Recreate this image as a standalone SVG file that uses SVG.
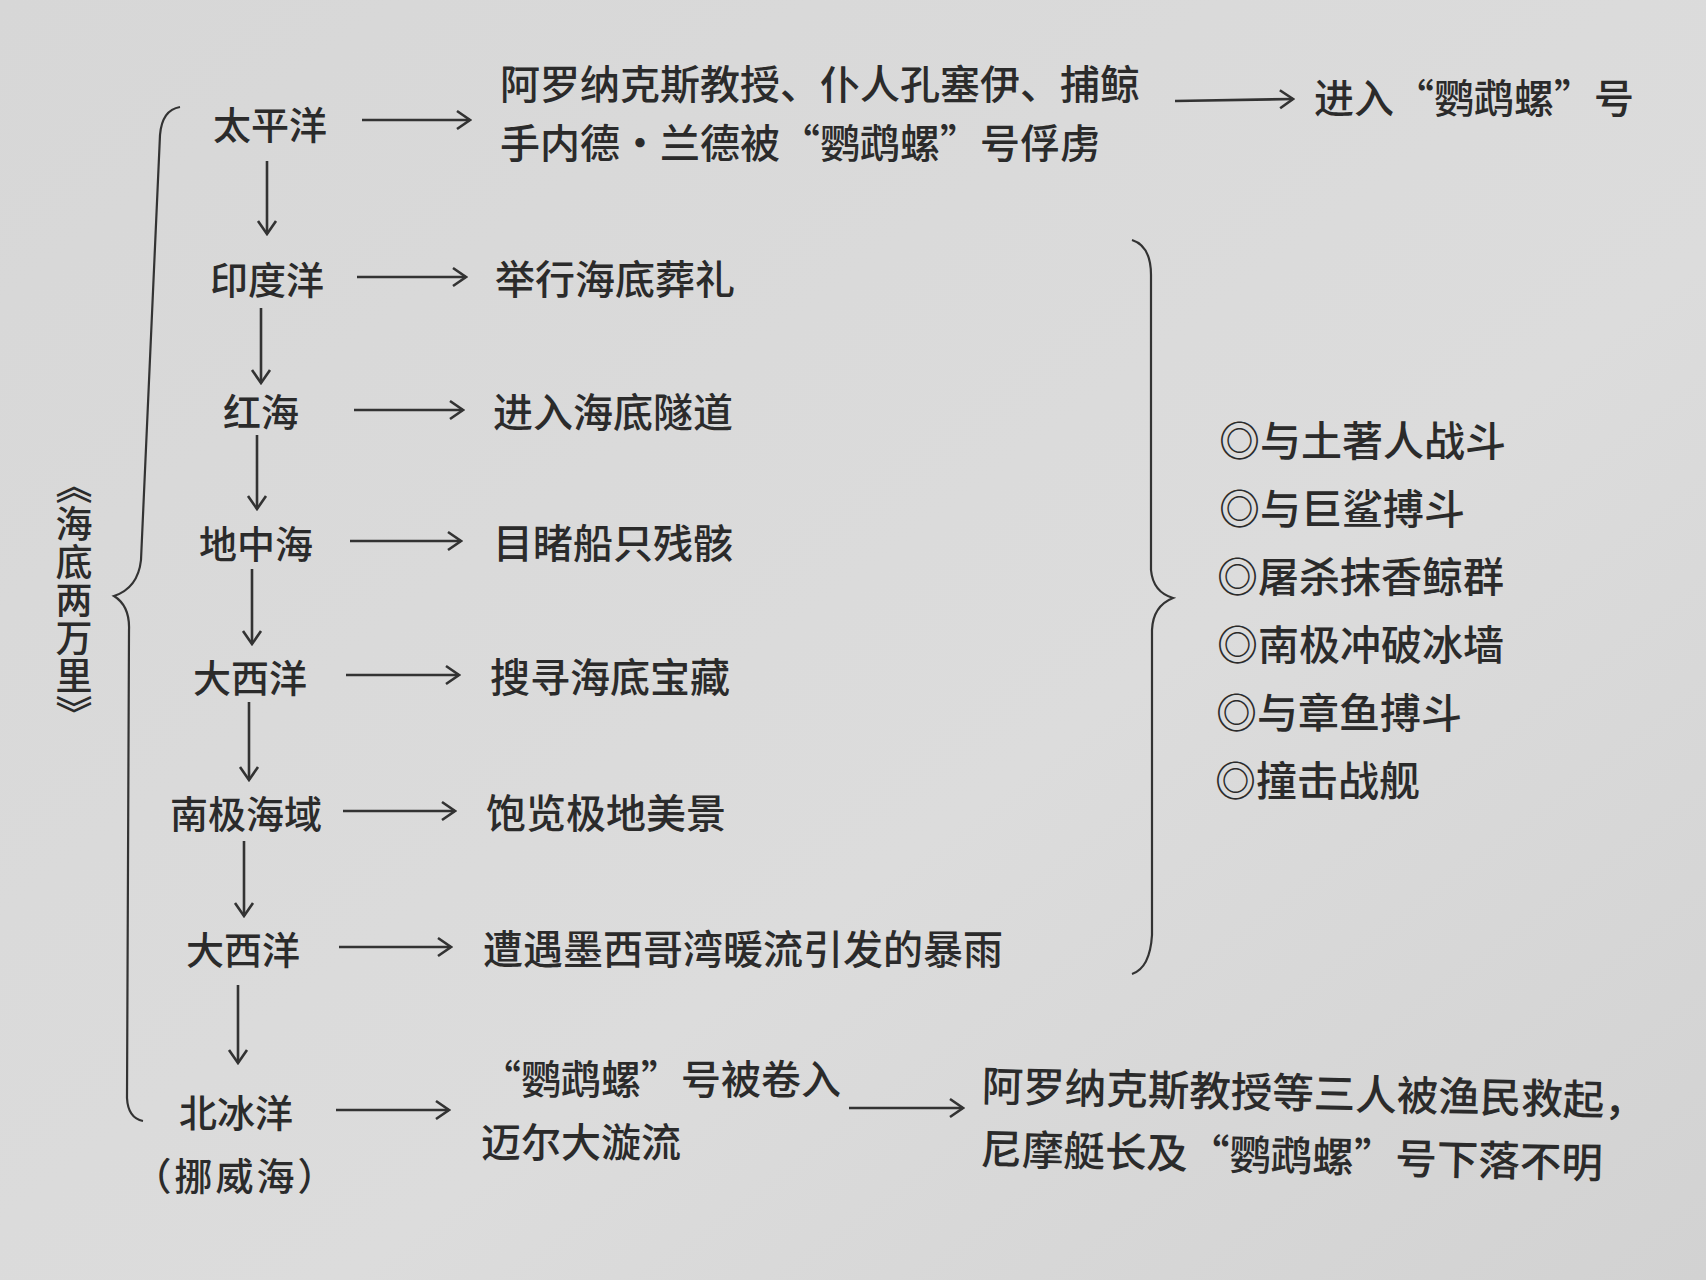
<svg xmlns="http://www.w3.org/2000/svg" width="1706" height="1280" viewBox="0 0 1706 1280">
<defs>
<linearGradient id="bg" x1="0" y1="0" x2="1" y2="1">
<stop offset="0" stop-color="#d7d7d7"/>
<stop offset="0.6" stop-color="#dcdcdc"/>
<stop offset="1" stop-color="#d2d2d2"/>
</linearGradient>
<marker id="ah" viewBox="0 0 22 22" refX="20" refY="11" markerWidth="22" markerHeight="22" markerUnits="userSpaceOnUse" orient="auto">
<path d="M7,2 L20,11 L7,20" fill="none" stroke="#333" stroke-width="2.6"/>
</marker>
<style>
text{font-family:"Noto Sans CJK SC","Noto Sans CJK TC",sans-serif;font-size:38px;font-weight:500;fill:#2b2b2b;dominant-baseline:central}
.c{text-anchor:middle}
.l{font-size:40px}
.con line{stroke:#333;stroke-width:2.6;marker-end:url(#ah)}
.br{fill:none;stroke:#333;stroke-width:2.2}
</style>
</defs>
<rect width="1706" height="1280" fill="url(#bg)"/>

<g id="title"><text x="74" y="600" class="c" style="writing-mode:vertical-rl;font-size:37px;letter-spacing:1px">《海底两万里》</text></g>
<g id="brace-left"><path class="br" d="M180,107 Q162,110 160,135 L141,560 Q138,588 114,596 Q130,606 129,630 L127,1098 Q128,1118 143,1121"/></g>
<g id="brace-right"><path class="br" d="M1132,240 Q1151,246 1151,275 L1151,570 Q1153,592 1173,598 Q1153,606 1152,630 L1152,935 Q1150,968 1132,974"/></g>

<g id="n1"><text x="270" y="122" class="c">太平洋</text></g>
<g id="n2"><text x="267" y="277" class="c">印度洋</text></g>
<g id="n3"><text x="261" y="409" class="c">红海</text></g>
<g id="n4"><text x="256" y="541" class="c">地中海</text></g>
<g id="n5"><text x="250" y="675" class="c">大西洋</text></g>
<g id="n6"><text x="246" y="811" class="c">南极海域</text></g>
<g id="n7"><text x="243" y="947" class="c">大西洋</text></g>
<g id="n8"><text x="236" y="1110" class="c">北冰洋</text><text x="236" y="1173" class="c" style="letter-spacing:3px">（挪威海）</text></g>

<g id="e1"><text x="500" y="82" class="l">阿罗纳克斯教授、仆人孔塞伊、捕鲸</text><text x="500" y="141" class="l">手内德·兰德被“鹦鹉螺”号俘虏</text></g>
<g id="e1b"><text x="1314" y="96" class="l">进入“鹦鹉螺”号</text></g>
<g id="e2"><text x="495" y="277" class="l">举行海底葬礼</text></g>
<g id="e3"><text x="493" y="410" class="l">进入海底隧道</text></g>
<g id="e4"><text x="493" y="541" class="l">目睹船只残骸</text></g>
<g id="e5"><text x="490" y="675" class="l">搜寻海底宝藏</text></g>
<g id="e6"><text x="486" y="811" class="l">饱览极地美景</text></g>
<g id="e7"><text x="483" y="947" class="l">遭遇墨西哥湾暖流引发的暴雨</text></g>
<g id="e8"><text x="481" y="1077" class="l">“鹦鹉螺”号被卷入</text><text x="481" y="1140" class="l">迈尔大漩流</text></g>
<g id="e9" transform="rotate(1.3 982 1083)"><text x="982" y="1083" style="font-size:41.5px">阿罗纳克斯教授等三人被渔民救起，</text><text x="982" y="1146" style="font-size:41.5px">尼摩艇长及“鹦鹉螺”号下落不明</text></g>

<g id="events">
<text x="1219" y="438" style="font-size:41px">◎与土著人战斗</text>
<text x="1219" y="506" style="font-size:41px">◎与巨鲨搏斗</text>
<text x="1217" y="574" style="font-size:41px">◎屠杀抹香鲸群</text>
<text x="1217" y="642" style="font-size:41px">◎南极冲破冰墙</text>
<text x="1216" y="710" style="font-size:41px">◎与章鱼搏斗</text>
<text x="1215" y="778" style="font-size:41px">◎撞击战舰</text>
</g>

<g id="connectors" class="con">
<line x1="267" y1="161" x2="267" y2="234"/>
<line x1="261" y1="308" x2="261" y2="383"/>
<line x1="257" y1="435" x2="257" y2="509"/>
<line x1="252" y1="569" x2="252" y2="644"/>
<line x1="249" y1="702" x2="249" y2="780"/>
<line x1="244" y1="841" x2="244" y2="916"/>
<line x1="238" y1="985" x2="238" y2="1063"/>
<line x1="362" y1="120" x2="470" y2="120"/>
<line x1="357" y1="277" x2="466" y2="277"/>
<line x1="354" y1="410" x2="463" y2="410"/>
<line x1="350" y1="541" x2="461" y2="541"/>
<line x1="346" y1="675" x2="459" y2="675"/>
<line x1="343" y1="811" x2="455" y2="811"/>
<line x1="339" y1="947" x2="451" y2="947"/>
<line x1="336" y1="1110" x2="449" y2="1110"/>
<line x1="849" y1="1108" x2="963" y2="1108"/>
<line x1="1175" y1="101" x2="1293" y2="99"/>
</g>
</svg>
